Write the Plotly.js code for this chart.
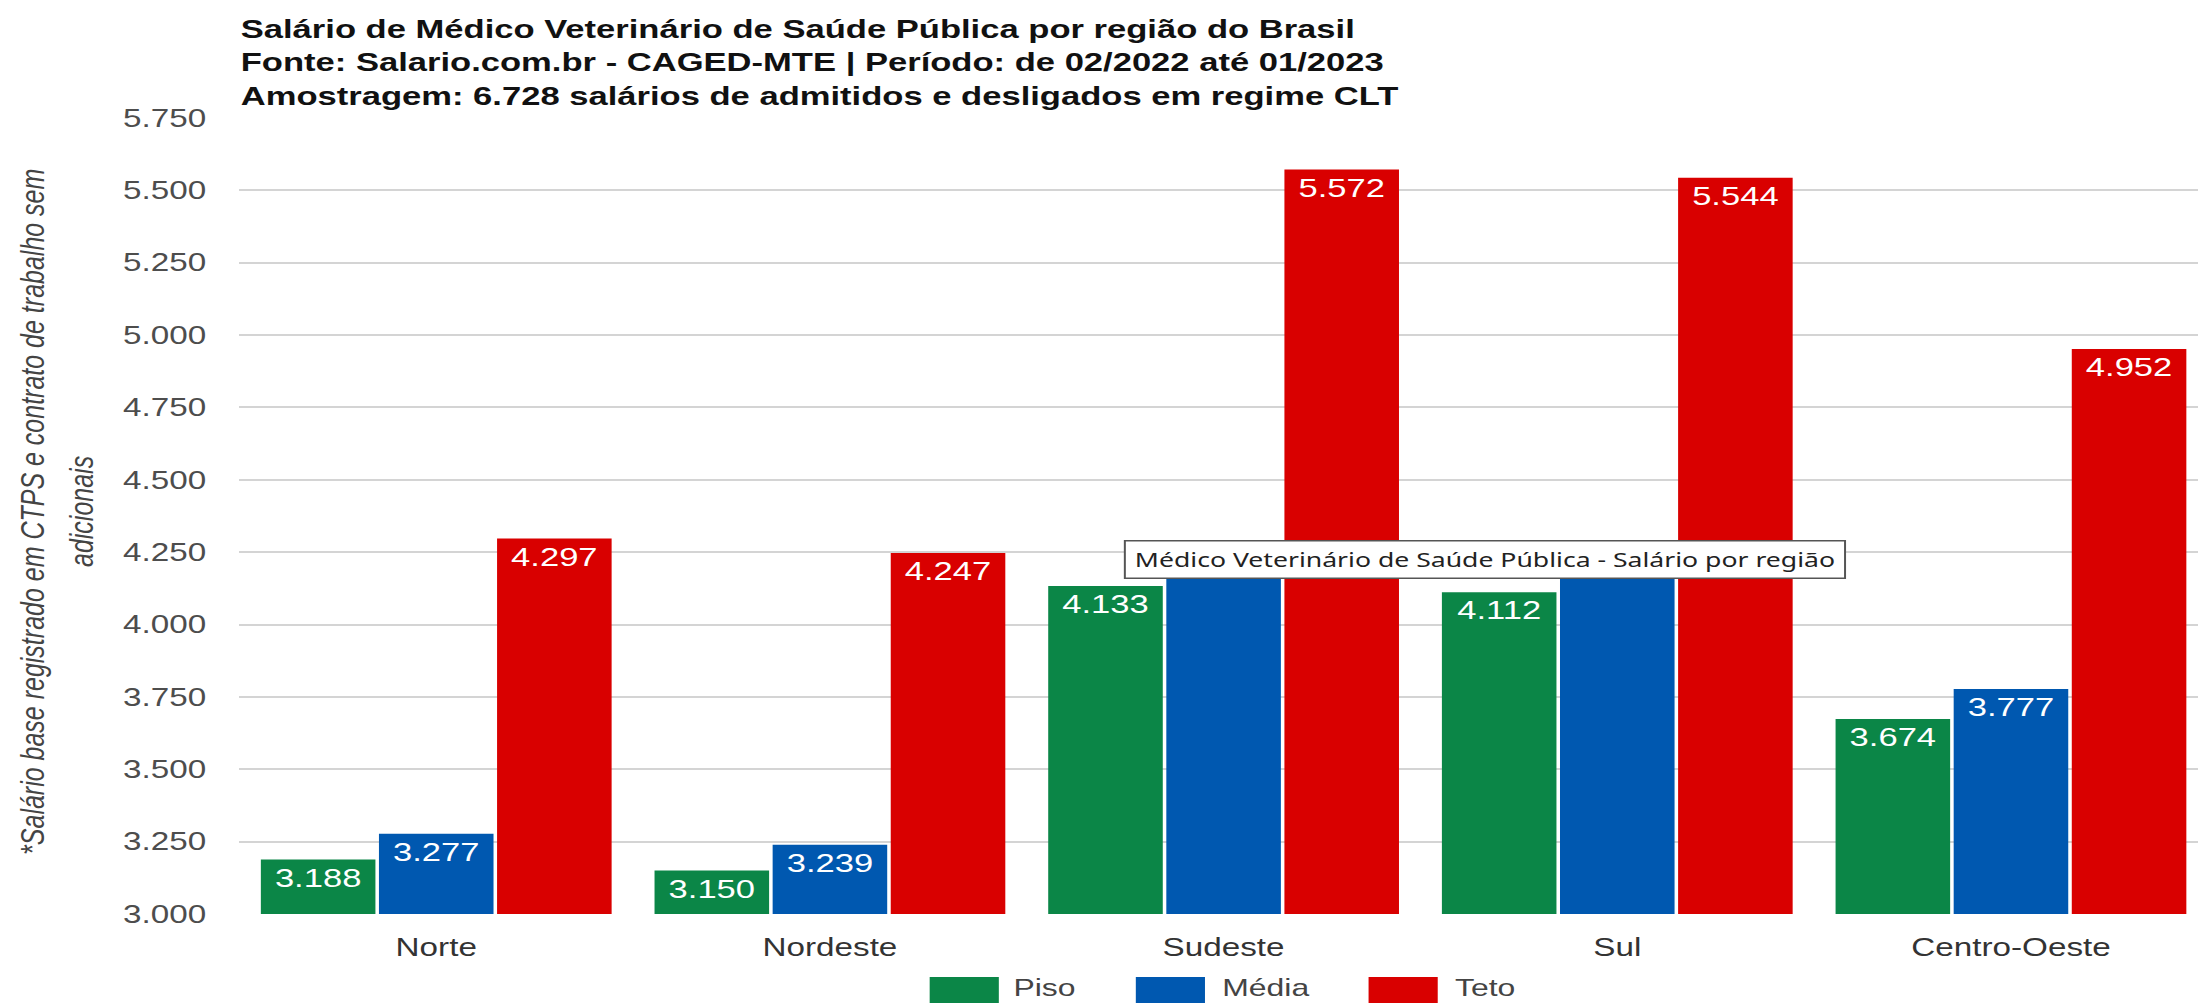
<!DOCTYPE html>
<html>
<head>
<meta charset="utf-8">
<script src="https://cdn.plot.ly/plotly-3.0.1.min.js"></script>
<style>
  html, body { margin: 0; padding: 0; overflow: hidden; background: #fff; width: 2198px; height: 1003px; }
  #chart { width: 1663px; height: 1003px; transform: scaleX(1.33); transform-origin: 0 0; }
</style>
</head>
<body>
<div id="chart"></div>
<script>
// ---- data ----
const regioes = ["Norte", "Nordeste", "Sudeste", "Sul", "Centro-Oeste"];
const piso  = [3188, 3150, 4133, 4112, 3674];
const media = [3277, 3239, 4275, 4270, 3777];   // Sudeste / Sul hidden under the tooltip box: estimated
const teto  = [4297, 4247, 5572, 5544, 4952];
const serieNomes = ["Piso", "Média", "Teto"];
const serieCores = ["#0b8647", "#0058b0", "#d90000"];
// value labels hidden by the tooltip box in the reference (Média for Sudeste and Sul)
const mediaRotuloVisivel = [true, true, false, false, true];
const yTicks = [3000, 3250, 3500, 3750, 4000, 4250, 4500, 4750, 5000, 5250, 5500, 5750];
const tituloLinhas = [
  "Salário de Médico Veterinário de Saúde Pública por região do Brasil",
  "Fonte: Salario.com.br - CAGED-MTE | Período: de 02/2022 até 01/2023",
  "Amostragem: 6.728 salários de admitidos e desligados em regime CLT"
];
const eixoYLinhas = ["*Salário base registrado em CTPS e contrato de trabalho sem", "adicionais"];
const tooltipTexto = "Médico Veterinário de Saúde Pública - Salário por região";

const FONT = "Liberation Sans, Arial, sans-serif";
const series = [piso, media, teto];

const traces = series.map((vals, i) => ({
  type: "bar",
  name: serieNomes[i],
  x: regioes,
  y: vals,
  marker: { color: serieCores[i], line: { width: 0 } },
  texttemplate: i === 1 ? mediaRotuloVisivel.map(v => v ? "%{y:,d}" : " ") : "%{y:,d}",
  textposition: "inside",
  insidetextanchor: "end",
  textangle: 0,
  constraintext: "none",
  insidetextfont: { family: FONT, size: 26, color: "#ffffff" },
  hoverinfo: "skip",
  cliponaxis: false
}));

// legend (custom, large swatches) in paper coordinates
const L = 180, PW = 1480, PB = 914, PH = 796;
const px = v => (v - L) / PW;
const py = v => (PB - v) / PH;
const legSwatchX = [699, 854, 1029];
const legTextX = [760, 917, 1092];
const shapes = [];
const annotations = [];
serieNomes.forEach((n, i) => {
  shapes.push({
    type: "rect", xref: "paper", yref: "paper",
    x0: px(legSwatchX[i]), x1: px(legSwatchX[i] + 52),
    y0: py(977), y1: py(1012),
    fillcolor: serieCores[i], line: { width: 0 }
  });
  annotations.push({
    xref: "paper", yref: "paper", x: px(legTextX[i]), y: py(988),
    xanchor: "left", yanchor: "middle", showarrow: false,
    text: n, font: { family: FONT, size: 24, color: "#444" }
  });
});

// y-axis title lines (rotated)
const eixoYX = [24, 61];
eixoYLinhas.forEach((t, i) => {
  annotations.push({
    xref: "paper", yref: "paper", x: px(eixoYX[i]), y: 0.505,
    xanchor: "center", yanchor: "middle", showarrow: false, textangle: -90,
    text: "<i>" + t + "</i>", font: { family: FONT, size: 25, color: "#444" }
  });
});

// tooltip box visible in the reference
annotations.push({
  xref: "paper", yref: "paper", x: px(1116), y: py(559.5),
  xanchor: "center", yanchor: "middle", showarrow: false,
  text: tooltipTexto, font: { family: "Segoe UI, Noto Sans, Open Sans, sans-serif", size: 20, color: "#222" },
  bgcolor: "#ffffff", bordercolor: "#555", borderwidth: 1.5, borderpad: 1,
  width: 538, height: 34
});

const layout = {
  width: 1663, height: 1003,
  margin: { l: L, r: 3, t: 118, b: 89 },
  paper_bgcolor: "#ffffff", plot_bgcolor: "#ffffff",
  separators: ",.",
  barmode: "group", bargap: 0.1, bargroupgap: 0.03,
  showlegend: false,
  font: { family: FONT, color: "#444" },
  title: {
    text: tituloLinhas.map(t => "<b>" + t + "</b>").join("<br>"),
    x: 181 / 1663, xanchor: "left", xref: "container",
    y: 0.9626, yanchor: "top", yref: "container",
    font: { family: FONT, size: 26, color: "#111" }
  },
  xaxis: {
    type: "category",
    tickfont: { family: FONT, size: 25, color: "#333" },
    showgrid: false, showline: false, zeroline: false,
    ticks: "outside", ticklen: 11, tickcolor: "rgba(0,0,0,0)",
    title: { text: "" }
  },
  yaxis: {
    range: [3000, 5750], tickmode: "array", tickvals: yTicks,
    tickformat: ",d",
    tickfont: { family: FONT, size: 25, color: "#4d4d4d" },
    showgrid: true, gridcolor: "#d4d4d4", gridwidth: 2,
    zeroline: false, showline: false,
    ticks: "outside", ticklen: 19, tickcolor: "rgba(0,0,0,0)",
    title: { text: "" }
  },
  shapes: shapes,
  annotations: annotations
};

Plotly.newPlot("chart", traces, layout, { staticPlot: true, displayModeBar: false });
</script>
</body>
</html>
